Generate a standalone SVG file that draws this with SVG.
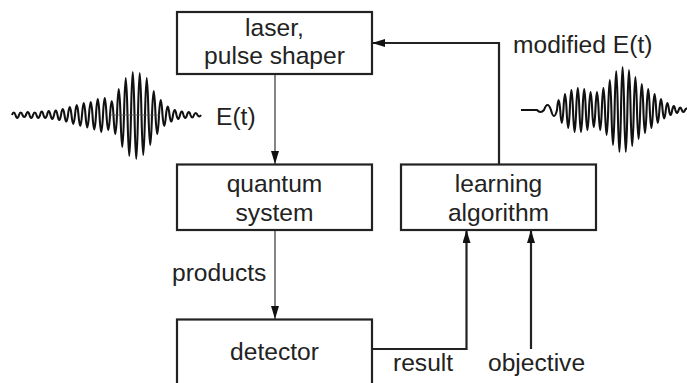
<svg xmlns="http://www.w3.org/2000/svg" width="687" height="383" viewBox="0 0 687 383">
<style>
.box{fill:#fff;stroke:#222;stroke-width:2.2}
.t{font-family:"Liberation Sans",Arial,sans-serif;font-size:24.6px;fill:#222}
.m{text-anchor:middle}
.thin{fill:none;stroke:#666;stroke-width:1.6}
.thick{fill:none;stroke:#222;stroke-width:2.2}
.wave{fill:none;stroke:#111;stroke-width:2.1;stroke-linejoin:round}
</style>
<defs>
<marker id="ah" viewBox="0 0 13 8" refX="13" refY="4" markerWidth="13" markerHeight="8" markerUnits="userSpaceOnUse" orient="auto">
<path d="M0,0 L13,4 L0,8 z" fill="#111"/>
</marker>
</defs>
<rect width="687" height="383" fill="#fff"/>
<g id="connectors">
<path class="thin" d="M275 74 V164" marker-end="url(#ah)"/>
<path class="thin" d="M275 230 V319" marker-end="url(#ah)"/>
<path class="thick" d="M372 349 H466.5 V230" marker-end="url(#ah)"/>
<path class="thick" d="M531 349 V230" marker-end="url(#ah)"/>
<path class="thick" d="M499 164 V43 H372" marker-end="url(#ah)"/>
</g>
<g id="laser">
<rect class="box" x="177" y="12" width="195" height="62"/>
<text class="t m" x="274.5" y="36">laser,</text>
<text class="t m" x="274.5" y="64">pulse shaper</text>
</g>
<g id="quantum">
<rect class="box" x="177" y="164.5" width="195" height="65.5"/>
<text class="t m" x="274.5" y="192">quantum</text>
<text class="t m" x="274.5" y="221">system</text>
</g>
<g id="learning">
<rect class="box" x="401" y="164.5" width="195" height="65.5"/>
<text class="t m" x="498.5" y="192">learning</text>
<text class="t m" x="498.5" y="221">algorithm</text>
</g>
<g id="detector">
<rect class="box" x="177" y="319.5" width="195" height="80"/>
<text class="t m" x="274.5" y="360">detector</text>
</g>
<g id="labels">
<text class="t" x="172" y="281">products</text>
<text class="t" x="393" y="371">result</text>
<text class="t" x="488" y="371">objective</text>
<text class="t" x="513" y="53">modified E(t)</text>
<text class="t" x="216" y="125">E(t)</text>
</g>
<g id="waves">
<path class="wave" d="M12 115 Q13.75 110 15.5 115 Q17.25 121 19 115 Q20.75 110 22.5 115 Q24.25 119 26 115 Q27.75 109 29.5 115 Q31.25 121 33 115 Q34.75 110 36.5 115 Q38.25 121 40 115 Q41.75 108 43.5 115 Q45.25 121 47 115 Q48.75 107 50.5 115 Q52.25 123 54 115 Q55.75 106 57.5 115 Q59.25 125 61 115 Q62.75 103 64.5 115 Q66.25 128 68 115 Q69.75 99 71.5 115 Q73.25 133 75 115 Q76.75 95 78.5 115 Q80.25 137 82 115 Q83.75 91 85.5 115 Q87.25 140 89 115 Q90.75 89 92.5 115 Q94.25 144 96 115 Q97.75 83 99.5 115 Q101.25 149 103 115 Q104.75 81 106.5 115 Q108.25 145 110 115 Q111.75 87 113.5 115 Q115.25 153 117 115 Q118.75 63 120.5 115 Q122.25 179 124 115 Q125.75 41 127.5 115 Q129.25 197 131 115 Q132.75 29 134.5 115 Q136.25 203 138 115 Q139.75 31 141.5 115 Q143.25 195 145 115 Q146.75 41 148.5 115 Q150.25 175 152 115 Q153.75 67 155.5 115 Q157.25 153 159 115 Q160.75 85 162.5 115 Q164.25 137 166 115 Q167.75 98 169.5 115 Q171.25 128 173 115 Q174.75 105 176.5 115 Q178.25 123 180 115 Q181.75 108 183.5 115 Q185.25 121 187 115 Q188.75 109 190.5 115 Q192.25 120 194 115 Q195.75 111 197.5 115 Q199.25 118 201 115"/>
<path d="M110 115 H160" stroke="#555" stroke-width="0.8"/>
<path class="wave" d="M521 110 L537 110 Q540.5 114 544 110 Q547.5 100 551 110 Q554 122 557 110 Q558.6 90 560.2 110 Q561.8 136 563.4 110 Q565 78 566.6 110 Q568.2 146 569.8 110 Q571.4 70 573 110 Q574.6 154 576.2 110 Q577.8 66 579.4 110 Q581 154 582.6 110 Q584.2 68 585.8 110 Q587.4 150 589 110 Q590.6 74 592.2 110 Q593.8 144 595.4 110 Q597 74 598.6 110 Q600.2 150 601.8 110 Q603.4 66 605 110 Q606.6 160 608.2 110 Q609.8 50 611.4 110 Q613 180 614.6 110 Q616.2 32 617.8 110 Q619.4 194 621 110 Q622.6 24 624.2 110 Q625.8 194 627.4 110 Q629 30 630.6 110 Q632.2 182 633.8 110 Q635.4 44 637 110 Q638.6 168 640.2 110 Q641.8 58 643.4 110 Q645 156 646.6 110 Q648.2 68 649.8 110 Q651.4 146 653 110 Q654.6 78 656.2 110 Q657.8 136 659.4 110 Q661 88 662.6 110 Q664.2 127 665.8 110 Q667.4 96 669 110 Q670.6 120 672.2 110 Q673.8 102 675.4 110 Q677 116 678.6 110 Q680.2 105 681.8 110 Q683.4 114 685 110 Q686.6 107 688.2 110"/>
</g>
</svg>
